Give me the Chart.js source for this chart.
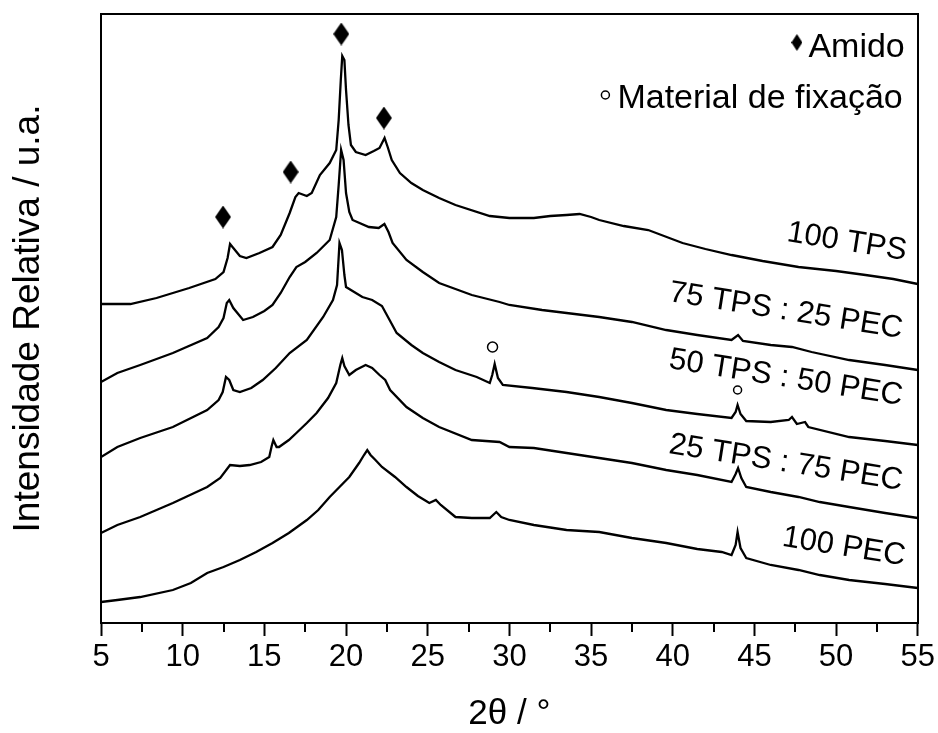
<!DOCTYPE html>
<html>
<head>
<meta charset="utf-8">
<script src="https://cdn.jsdelivr.net/npm/chart.js@4/dist/chart.umd.min.js"></script>
<style>
  html, body { margin: 0; padding: 0; background: #fff; }
  #wrap { width: 938px; height: 733px; }
</style>
</head>
<body>
<div id="wrap"><canvas id="xrd"></canvas></div>
<script>
// 2theta (deg) and relative intensity (a.u., curves already offset)
const tps100 = [
  [5.0, 319], [6.8, 319], [8.4, 325], [10.4, 335], [12.0, 344], [12.5, 351], [12.75, 365], [12.9, 379],
  [13.1, 375], [13.5, 367], [13.9, 365], [14.7, 370], [15.5, 376], [16.0, 388], [16.55, 410], [16.9, 426],
  [17.1, 430], [17.6, 427], [17.9, 430], [18.4, 448], [19.0, 460], [19.4, 473], [19.55, 503], [19.68, 543],
  [19.77, 567], [19.9, 563], [20.0, 533], [20.15, 498], [20.3, 478], [20.6, 471], [21.2, 468], [21.7, 472],
  [22.05, 475], [22.36, 485], [22.55, 476], [22.8, 463], [23.3, 450], [24.0, 440], [24.7, 433], [25.7, 425],
  [26.7, 418], [28.8, 407], [30.0, 405], [31.5, 405], [32.5, 407], [33.5, 408], [34.3, 409], [35.0, 406],
  [35.5, 403], [37.0, 397], [38.5, 393], [40.6, 380], [42.0, 374], [43.6, 368], [45.5, 362], [47.7, 356],
  [50.0, 352], [51.8, 348], [53.5, 344], [55.0, 339]
];
const tps75pec25 = [
  [5.0, 241], [6.0, 250], [7.4, 258], [9.4, 270], [11.5, 285], [12.2, 296], [12.5, 305], [12.7, 320],
  [12.85, 323], [13.1, 315], [13.7, 303], [14.3, 306], [15.0, 312], [15.5, 318], [16.0, 330], [16.55, 346],
  [16.96, 356], [17.5, 361], [18.2, 370], [19.0, 383], [19.4, 406], [19.55, 438], [19.7, 473], [19.85, 463],
  [20.0, 430], [20.2, 411], [20.4, 403], [21.4, 396], [22.0, 395], [22.35, 399], [22.6, 391], [22.85, 380],
  [23.7, 363], [24.7, 351], [25.7, 340], [27.7, 328], [29.4, 321], [30.0, 318], [32.0, 313], [35.5, 306],
  [37.5, 301], [39.6, 293], [41.5, 288], [43.6, 283], [44.0, 288], [44.3, 282], [46.0, 278], [47.3, 276],
  [48.5, 271], [50.8, 263], [53.0, 258], [55.0, 253]
];
const tps50pec50 = [
  [5.0, 166], [6.0, 176], [7.4, 185], [9.4, 196], [11.5, 213], [12.2, 223], [12.45, 231], [12.65, 246],
  [12.85, 243], [13.1, 233], [13.5, 231], [14.2, 235], [14.9, 243], [15.7, 255], [16.55, 270], [17.6, 283],
  [18.6, 306], [19.2, 323], [19.45, 338], [19.6, 380], [19.75, 373], [19.9, 348], [20.0, 336], [20.5, 331],
  [21.0, 326], [21.6, 323], [22.2, 317], [22.6, 305], [23.1, 290], [24.0, 278], [24.7, 270], [25.7, 261],
  [26.7, 253], [28.0, 246], [28.8, 240], [28.95, 248], [29.1, 259], [29.3, 245], [29.6, 238], [31.4, 235],
  [33.5, 231], [35.5, 226], [37.5, 220], [39.6, 213], [41.5, 209], [43.6, 205], [43.85, 211], [43.97, 218],
  [44.15, 209], [44.5, 202], [46.0, 201], [47.1, 203], [47.3, 206], [47.6, 199], [48.1, 201], [48.3, 196],
  [50.8, 186], [53.0, 182], [55.0, 178]
];
const tps25pec75 = [
  [5.0, 90], [6.0, 98], [7.4, 106], [9.4, 120], [11.5, 136], [12.3, 145], [12.9, 158], [13.5, 157],
  [14.1, 158], [14.8, 161], [15.3, 166], [15.45, 177], [15.55, 183], [15.75, 176], [15.9, 176], [16.5, 183],
  [16.96, 190], [17.6, 200], [18.2, 210], [18.9, 225], [19.4, 240], [19.65, 258], [19.77, 265], [19.9, 257],
  [20.2, 248], [20.6, 253], [21.2, 258], [21.6, 255], [22.05, 248], [22.4, 243], [22.7, 233], [23.7, 216],
  [24.7, 205], [25.7, 196], [27.7, 183], [29.4, 181], [30.0, 176], [31.5, 175], [33.5, 170], [35.5, 165],
  [37.5, 160], [39.6, 153], [41.5, 148], [43.6, 141], [43.85, 149], [44.0, 155], [44.2, 145], [44.5, 136],
  [46.0, 131], [47.7, 126], [49.0, 121], [50.8, 116], [53.0, 110], [55.0, 105]
];
const pec100 = [
  [5.0, 21], [6.0, 23], [7.4, 26], [9.4, 33], [10.5, 40], [11.5, 50], [12.5, 56], [13.5, 63],
  [14.5, 71], [15.5, 80], [16.5, 90], [17.6, 103], [18.3, 113], [19.0, 126], [19.6, 136], [20.2, 146],
  [20.8, 160], [21.1, 168], [21.3, 173], [21.5, 168], [21.8, 163], [22.2, 156], [23.0, 146], [23.7, 136],
  [24.4, 127], [25.1, 120], [25.5, 123], [25.8, 118], [26.7, 106], [27.7, 105], [28.8, 105], [29.2, 111],
  [29.5, 106], [30.0, 103], [31.5, 98], [33.5, 93], [35.5, 91], [37.5, 85], [39.6, 80], [41.5, 74],
  [43.0, 71], [43.6, 68], [43.85, 78], [43.97, 91], [44.15, 75], [44.5, 65], [46.0, 58], [47.7, 53],
  [49.0, 48], [50.8, 43], [53.0, 39], [55.0, 35]
];

// peak markers
const amidoPeaks = [[12.47, 406], [16.61, 451], [19.71, 589], [22.32, 505]];
const fixacaoPeaks = [[28.97, 276], [43.97, 233]];

// curve names and where they sit
const seriesNames = ['100 TPS', '75 TPS : 25 PEC', '50 TPS : 50 PEC', '25 TPS : 75 PEC', '100 PEC'];
const labelTheta = [50.66, 46.93, 46.93, 46.93, 50.48];
const labelIntensity = [381, 312, 245, 160, 76];

const xMajorTicks = [5, 10, 15, 20, 25, 30, 35, 40, 45, 50, 55];
const xMinorTicks = [7.5, 12.5, 17.5, 22.5, 27.5, 32.5, 37.5, 42.5, 47.5, 52.5];

const FONT = "'Liberation Sans', Arial, Helvetica, sans-serif";

function toXY(arr) { return arr.map(p => ({ x: p[0], y: p[1] })); }

function diamondCanvas(w, h) {
  const c = document.createElement('canvas');
  c.width = w; c.height = h;
  const g = c.getContext('2d');
  g.fillStyle = '#000';
  g.beginPath();
  g.moveTo(w / 2, 0); g.lineTo(w, h / 2); g.lineTo(w / 2, h); g.lineTo(0, h / 2);
  g.closePath(); g.fill();
  return c;
}
const bigDiamond = diamondCanvas(16, 23);
const smallDiamond = diamondCanvas(11, 17);

const curves = [tps100, tps75pec25, tps50pec50, tps25pec75, pec100];
const lineSets = curves.map((c, i) => ({
  label: seriesNames[i],
  data: toXY(c),
  borderColor: '#000',
  borderWidth: 2.3,
  pointRadius: 0,
  tension: 0,
  fill: false
}));

// minor ticks, series labels and the legend text
const extrasPlugin = {
  id: 'extras',
  afterDraw(chart) {
    const ctx = chart.ctx;
    const xs = chart.scales.x, ys = chart.scales.y;
    const area = chart.chartArea;
    ctx.save();
    ctx.strokeStyle = '#000';
    ctx.lineWidth = 2;
    xMinorTicks.forEach(v => {
      const px = Math.round(xs.getPixelForValue(v));
      ctx.beginPath();
      ctx.moveTo(px, area.bottom);
      ctx.lineTo(px, area.bottom + 9);
      ctx.stroke();
    });

    ctx.fillStyle = '#000';
    ctx.font = '31px ' + FONT;
    ctx.textAlign = 'center';
    ctx.textBaseline = 'middle';
    seriesNames.forEach((name, i) => {
      const px = xs.getPixelForValue(labelTheta[i]);
      const py = ys.getPixelForValue(labelIntensity[i]);
      ctx.save();
      ctx.translate(px, py);
      ctx.rotate(9 * Math.PI / 180);
      ctx.fillText(name, 0, 0);
      ctx.restore();
    });

    // legend
    ctx.font = '34px ' + FONT;
    ctx.textAlign = 'right';
    ctx.textBaseline = 'alphabetic';
    ctx.fillText('Amido', area.right - 13, area.top + 43);
    ctx.fillText('Material de fixação', area.right - 15, area.top + 94);
    const amidoW = ctx.measureText('Amido').width;
    const fixW = ctx.measureText('Material de fixação').width;
    ctx.drawImage(smallDiamond, area.right - 13 - amidoW - 6 - 11, area.top + 20);
    ctx.lineWidth = 1.5;
    ctx.beginPath();
    ctx.arc(area.right - 15 - fixW - 12, area.top + 81, 4, 0, Math.PI * 2);
    ctx.stroke();
    ctx.restore();
  }
};

new Chart(document.getElementById('xrd'), {
  type: 'line',
  data: {
    datasets: [
      ...lineSets,
      {
        label: 'Amido',
        data: toXY(amidoPeaks),
        showLine: false,
        pointStyle: bigDiamond,
        pointRadius: 10
      },
      {
        label: 'Material de fixação',
        data: toXY(fixacaoPeaks),
        showLine: false,
        pointStyle: 'circle',
        pointRadius: [5, 4],
        pointBorderWidth: 1.5,
        pointBorderColor: '#000',
        pointBackgroundColor: '#fff'
      }
    ]
  },
  options: {
    responsive: true,
    maintainAspectRatio: false,
    animation: false,
    layout: { padding: 0 },
    plugins: {
      legend: { display: false },
      tooltip: { enabled: false }
    },
    scales: {
      x: {
        type: 'linear',
        position: 'bottom',
        min: 5,
        max: 55,
        afterBuildTicks: s => { s.ticks = xMajorTicks.map(v => ({ value: v })); },
        afterFit: s => { s.height = 110; },
        ticks: {
          color: '#000',
          font: { family: FONT, size: 31 },
          padding: 3,
          maxRotation: 0,
          autoSkip: false
        },
        grid: {
          display: true,
          drawOnChartArea: false,
          drawTicks: true,
          tickLength: 13,
          tickWidth: 2,
          tickColor: '#000'
        },
        border: { display: true, color: '#000', width: 2 },
        title: {
          display: true,
          text: '2θ / °',
          color: '#000',
          font: { family: FONT, size: 35, lineHeight: 1 },
          padding: { top: 0, bottom: 1 }
        }
      },
      y: {
        type: 'linear',
        position: 'left',
        min: 0,
        max: 609,
        afterFit: s => { s.width = 101; },
        ticks: { display: false },
        grid: { display: false },
        border: { display: true, color: '#000', width: 2 },
        title: {
          display: true,
          text: 'Intensidade Relativa / u.a.',
          color: '#000',
          font: { family: FONT, size: 37, lineHeight: 1 },
          padding: { top: 10, bottom: 0 }
        }
      },
      xTop: {
        type: 'linear',
        position: 'top',
        min: 0,
        max: 1,
        afterFit: s => { s.height = 14; },
        ticks: { display: false },
        grid: { display: false },
        border: { display: true, color: '#000', width: 2 }
      },
      yRight: {
        type: 'linear',
        position: 'right',
        min: 0,
        max: 1,
        afterFit: s => { s.width = 19; },
        ticks: { display: false },
        grid: { display: false },
        border: { display: true, color: '#000', width: 2 }
      }
    }
  },
  plugins: [extrasPlugin]
});
</script>
</body>
</html>
